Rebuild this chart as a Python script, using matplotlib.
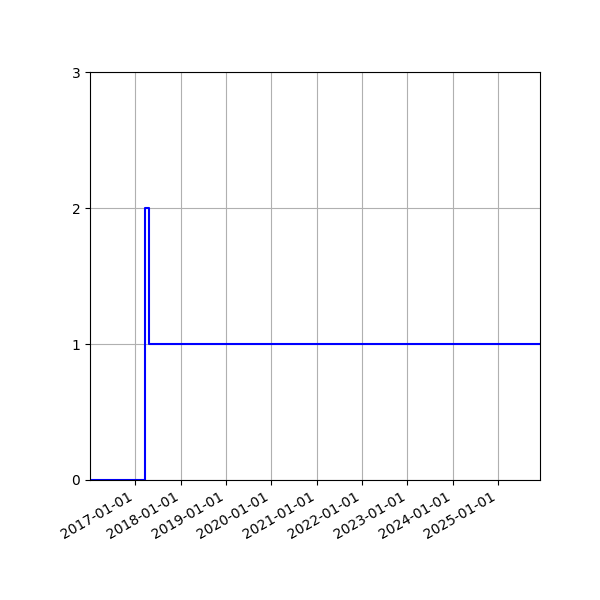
import numpy as np
import matplotlib
matplotlib.use('Agg')
import matplotlib.pyplot as plt
import matplotlib.dates as mdates

# change dates and count after each change
dates = np.array(['2016-01-02', '2017-03-22', '2017-04-24', '2025-12-05'], dtype='datetime64[D]')
counts = [0, 2, 1, 1]
tick_years = np.array(['2017-01-01', '2018-01-01', '2019-01-01', '2020-01-01', '2021-01-01',
                       '2022-01-01', '2023-01-01', '2024-01-01', '2025-01-01'], dtype='datetime64[D]')

fig, ax = plt.subplots(figsize=(6, 6), dpi=100)
ax.step(dates, counts, where='post', color='blue')
ax.set_xlim(dates[0], dates[-1])
ax.set_ylim(0, 3)
ax.set_yticks([0, 1, 2, 3])
ax.set_xticks(tick_years)
ax.xaxis.set_major_formatter(mdates.DateFormatter('%Y-%m-%d'))
ax.grid(True)
fig.autofmt_xdate()
fig.subplots_adjust(left=0.15, right=0.9, bottom=0.2, top=0.88)
fig.savefig('out.png')
